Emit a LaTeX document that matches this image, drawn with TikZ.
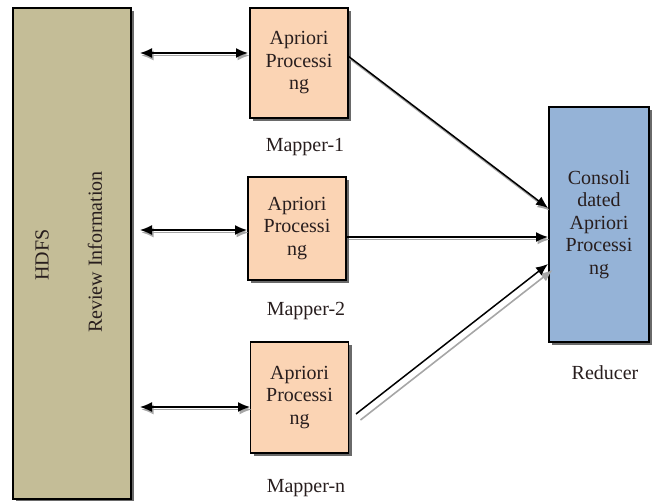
\documentclass[tikz,border=0pt]{standalone}
\usepackage{fontspec}
\setmainfont{Liberation Serif}
\usetikzlibrary{arrows.meta,shadows}
\definecolor{hdfsfill}{RGB}{196,189,151}
\definecolor{mapfill}{RGB}{251,212,180}
\definecolor{redfill}{RGB}{149,179,215}
\definecolor{shadowgray}{RGB}{80,80,80}
\definecolor{txt}{RGB}{40,30,30}
\tikzset{
  boxbase/.style={draw=black, line width=1.1pt, inner sep=0pt, align=center,
    font=\fontsize{20}{22.5}\selectfont, text=txt,
    drop shadow={shadow xshift=3pt, shadow yshift=-3pt, fill=shadowgray, opacity=0.85}},
  hdfsbox/.style={boxbase, fill=hdfsfill, minimum width=118pt, minimum height=491pt},
  mapbox/.style={boxbase, fill=mapfill, minimum width=98pt},
  redbox/.style={boxbase, fill=redfill, minimum width=100pt, minimum height=235pt},
  lbl/.style={font=\fontsize{20}{22}\selectfont, text=txt, inner sep=0pt},
  rottxt/.style={font=\fontsize{20}{22}\selectfont, text=txt, rotate=90, inner sep=0pt},
  tip/.style={Latex[length=12pt,width=10pt]},
  arr/.style={-{Latex[length=12pt,width=10pt]}, line width=1.5pt, black},
  darr/.style={{Latex[length=12pt,width=10pt]}-{Latex[length=12pt,width=10pt]}, line width=1.5pt, black},
  sarr/.style={-{Latex[length=12pt,width=10pt]}, line width=1.6pt, gray!70, transform canvas={xshift=1.5pt,yshift=-2.5pt}},
  sdarr/.style={{Latex[length=12pt,width=10pt]}-{Latex[length=12pt,width=10pt]}, line width=1.6pt, gray!70, transform canvas={xshift=1.5pt,yshift=-2.5pt}},
}
\begin{document}
\begin{tikzpicture}[x=1pt,y=-1pt]
\useasboundingbox (0,0) rectangle (654,501);
% HDFS
\node[hdfsbox] (hdfs) at (72,253.5) {};
\node[rottxt] (hdfst) at (42,255) {HDFS};
\node[rottxt] (revt) at (95,252) {Review Information};
% mappers
\node[mapbox, minimum height=110pt] (m1) at (299,63) {Apriori\\Processi\\ng};
\node[mapbox, minimum height=103pt] (m2) at (297,228.5) {Apriori\\Processi\\ng};
\node[mapbox, minimum height=111pt] (m3) at (299.5,397.5) {Apriori\\Processi\\ng};
\node[lbl] (l1) at (305,147) {Mapper-1};
\node[lbl] (l2) at (306,311) {Mapper-2};
\node[lbl] (l3) at (306,488) {Mapper-n};
% reducer
\node[redbox] (red) at (599,224.5) {Consoli\\dated\\Apriori\\Processi\\ng};
\node[lbl] (lr) at (605,373) {Reducer};
% connector endpoints
\coordinate (h1) at (140,53);
\coordinate (h2) at (140,230);
\coordinate (h3) at (140,407);
\coordinate (m1a) at (248,53);
\coordinate (m2a) at (247,230);
\coordinate (m3a) at (250,407);
\coordinate (m1o) at (348,56);
\coordinate (m2o) at (347,237);
\coordinate (m3o) at (356,414);
\coordinate (r1) at (548,208);
\coordinate (r2) at (548,237);
\coordinate (r3) at (548,264);
% shadows
\draw[sdarr] (h1) -- (m1a);
\draw[sdarr] (h2) -- (m2a);
\draw[sdarr] (h3) -- (m3a);
\draw[sarr] (m1o) -- (r1);
\draw[sarr] (m2o) -- (r2);
\draw[sarr, transform canvas={xshift=3pt,yshift=-3.5pt}] (m3o) -- (r3);
% arrows
\draw[darr] (h1) -- (m1a);
\draw[darr] (h2) -- (m2a);
\draw[darr] (h3) -- (m3a);
\draw[arr] (m1o) -- (r1);
\draw[arr] (m2o) -- (r2);
\draw[arr] (m3o) -- (r3);
\end{tikzpicture}
\end{document}
